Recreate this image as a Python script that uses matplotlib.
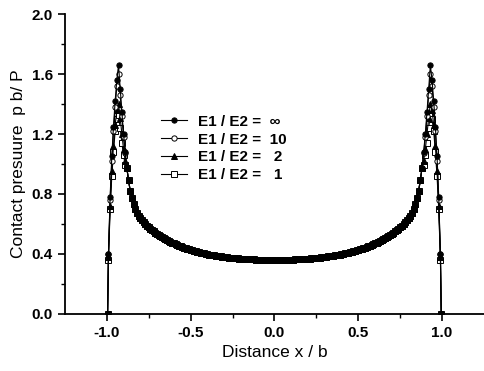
import numpy as np
import matplotlib
matplotlib.use("Agg")
import matplotlib.pyplot as plt

plt.rcParams['font.family'] = ['Liberation Sans', 'DejaVu Sans']
plt.rcParams['axes.unicode_minus'] = False

# right half of the profile (x >= 0); left half is the mirror
x_body = [0.00, 0.01, 0.02, 0.03, 0.04, 0.05, 0.06, 0.07, 0.08, 0.09,
          0.10, 0.11, 0.12, 0.13, 0.14, 0.15, 0.16, 0.17, 0.18, 0.19,
          0.20, 0.21, 0.22, 0.23, 0.24, 0.25, 0.26, 0.27, 0.28, 0.29,
          0.30, 0.31, 0.32, 0.33, 0.34, 0.35, 0.36, 0.37, 0.38, 0.39,
          0.40, 0.41, 0.42, 0.43, 0.44, 0.45, 0.46, 0.47, 0.48, 0.49,
          0.50, 0.51, 0.52, 0.53, 0.54, 0.55, 0.56, 0.57, 0.58, 0.59,
          0.60, 0.61, 0.62, 0.63, 0.64, 0.65, 0.66, 0.67, 0.68, 0.69,
          0.70, 0.71, 0.72, 0.73, 0.74, 0.75, 0.76, 0.77, 0.78, 0.79,
          0.80, 0.81, 0.82, 0.83, 0.84, 0.85, 0.86, 0.87, 0.88]
p_body = [0.360, 0.360, 0.360, 0.360, 0.360, 0.360, 0.361, 0.361, 0.361, 0.362,
          0.362, 0.362, 0.363, 0.363, 0.364, 0.364, 0.365, 0.366, 0.367, 0.367,
          0.368, 0.369, 0.370, 0.371, 0.372, 0.373, 0.374, 0.376, 0.377, 0.378,
          0.380, 0.381, 0.383, 0.385, 0.386, 0.388, 0.390, 0.392, 0.394, 0.396,
          0.398, 0.400, 0.403, 0.405, 0.408, 0.411, 0.414, 0.417, 0.420, 0.423,
          0.427, 0.430, 0.434, 0.438, 0.442, 0.446, 0.450, 0.455, 0.460, 0.465,
          0.470, 0.475, 0.480, 0.486, 0.492, 0.498, 0.505, 0.512, 0.520, 0.527,
          0.535, 0.542, 0.550, 0.559, 0.568, 0.578, 0.588, 0.599, 0.610, 0.624,
          0.640, 0.655, 0.675, 0.700, 0.730, 0.770, 0.820, 0.890, 0.970]

x_tip = [0.89, 0.90, 0.91, 0.92, 0.93, 0.94, 0.95, 0.96, 0.97, 0.98, 0.99, 0.995]
tip_inf = [1.08, 1.20, 1.35, 1.50, 1.66, 1.56, 1.42, 1.25, 1.05, 0.78, 0.40, 0.0]
tip_10 = [1.07, 1.18, 1.32, 1.46, 1.60, 1.52, 1.38, 1.22, 1.02, 0.76, 0.40, 0.0]
tip_2 = [1.02, 1.10, 1.20, 1.31, 1.40, 1.36, 1.26, 1.12, 0.95, 0.72, 0.38, 0.0]
tip_1 = [0.99, 1.06, 1.14, 1.24, 1.33, 1.30, 1.22, 1.08, 0.92, 0.70, 0.36, 0.0]

labels = ['E1 / E2 =  \u221e', 'E1 / E2 =  10', 'E1 / E2 =   2', 'E1 / E2 =   1']
tips = [tip_inf, tip_10, tip_2, tip_1]
markers = ['o', 'o', '^', 's']
faces = ['black', 'white', 'black', 'white']


def full_profile(tip):
    xr = np.array(x_body + x_tip)
    pr = np.array(p_body + tip)
    x = np.concatenate([-xr[::-1], xr[1:]])
    p = np.concatenate([pr[::-1], pr[1:]])
    return x, p


fig = plt.figure(figsize=(4.84, 3.71), dpi=100)
ax = fig.add_axes([0.134, 0.154, 0.866, 0.808])

for i, (tip, lab, m, fc) in enumerate(zip(tips, labels, markers, faces)):
    x, p = full_profile(tip)
    ax.plot(x, p, color='black', lw=0.8, marker=m, ms=3.8,
            mfc=fc, mec='black', mew=0.7, label=lab, zorder=6 - i)

ax.set_xlim(-1.25, 1.25)
ax.set_ylim(0.0, 2.0)
ax.set_xticks([-1.0, -0.5, 0.0, 0.5, 1.0])
ax.set_xticks([-0.75, -0.25, 0.25, 0.75], minor=True)
ax.set_yticks([0.0, 0.4, 0.8, 1.2, 1.6, 2.0])
ax.set_yticks([0.2, 0.6, 1.0, 1.4, 1.8], minor=True)
ax.tick_params(which='major', direction='out', length=5, width=1.2,
               labelsize=11)
ax.tick_params(which='minor', direction='out', length=3, width=1.0)
for lab in ax.get_xticklabels() + ax.get_yticklabels():
    lab.set_fontweight('bold')

ax.spines['top'].set_visible(False)
ax.spines['right'].set_visible(False)
ax.spines['left'].set_linewidth(1.3)
ax.spines['bottom'].set_linewidth(1.3)

ax.set_xlabel('Distance x / b', fontsize=12.5)
ax.set_ylabel('Contact presuure  p b/ P', fontsize=12.5)

leg = ax.legend(loc='upper left', bbox_to_anchor=(0.205, 0.70), frameon=False,
                fontsize=11, handlelength=1.7, handletextpad=0.7,
                labelspacing=0.25, borderpad=0.2)
for t in leg.get_texts():
    t.set_fontweight('bold')

fig.savefig('out.png', dpi=100)
